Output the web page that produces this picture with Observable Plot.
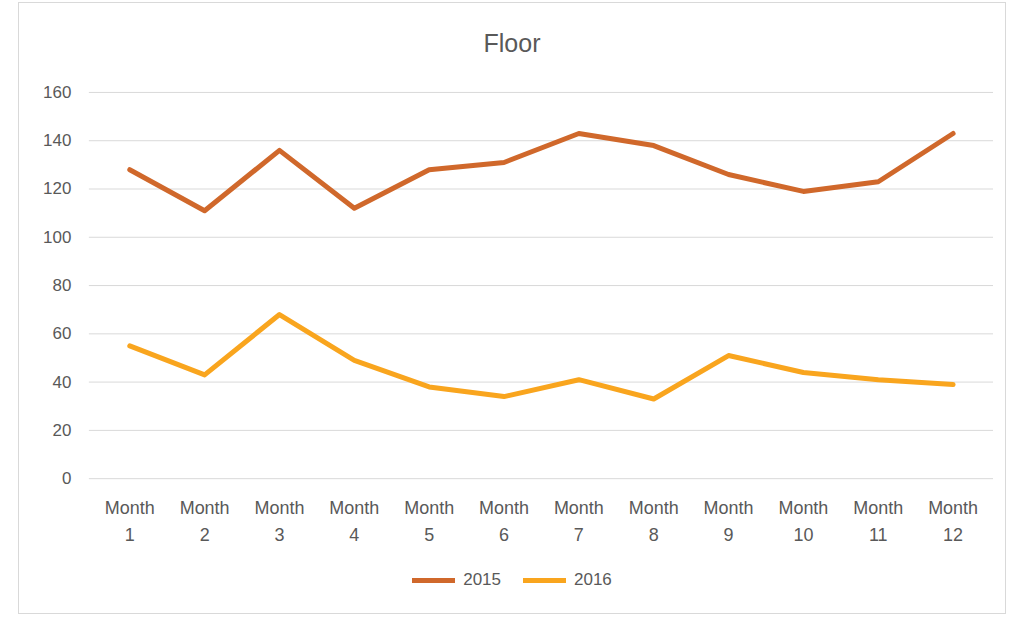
<!DOCTYPE html>
<html><head><meta charset="utf-8">
<script src="https://cdn.jsdelivr.net/npm/d3@7"></script>
<script src="https://cdn.jsdelivr.net/npm/@observablehq/plot@0.6"></script>
<style>
body{margin:0;background:#fff;font-family:"Liberation Sans",Arial,sans-serif;}
#box{position:absolute;left:18px;top:2px;width:988px;height:612px;border:1px solid #d9d9d9;box-sizing:border-box;}
#title{position:absolute;left:0;width:100%;top:26px;text-align:center;font-size:25px;color:#595959;}
#chart{position:absolute;left:-2px;top:66px;}
#legend{position:absolute;top:567px;left:0;width:100%;display:flex;justify-content:center;gap:22px;font-size:17px;color:#595959;}
.it{display:flex;align-items:center;gap:8px}
.sw{width:43px;height:5px;display:inline-block}
</style></head><body>
<div id="box"><div id="title">Floor</div><div id="chart"></div>
<div id="legend"></div></div>
<script>
const months = ["Month 1","Month 2","Month 3","Month 4","Month 5","Month 6","Month 7","Month 8","Month 9","Month 10","Month 11","Month 12"];
const s2015 = [128,111,136,112,128,131,143,138,126,119,123,143];
const s2016 = [55,43,68,49,38,34,41,33,51,44,41,39];
const series = ["2015","2016"];
const colors = ["#D0682B","#F9A51E"];
const yTicks = [0,20,40,60,80,100,120,140,160];

const data = [];
months.forEach((m,i)=>{data.push({m,v:s2015[i],s:"2015"});data.push({m,v:s2016[i],s:"2016"});});

const chart = Plot.plot({
  width:990, height:482,
  marginLeft:72, marginRight:12, marginTop:23, marginBottom:72,
  style:{fontSize:"17px",fontFamily:"Liberation Sans, Arial, sans-serif",color:"#595959"},
  x:{type:"band",domain:months,padding:0,label:null},
  y:{domain:[0,160],label:null},
  color:{domain:series,range:colors},
  marks:[
    Plot.gridY(yTicks,{stroke:"#d9d9d9",strokeOpacity:1}),
    Plot.axisY(yTicks,{tickSize:0,tickPadding:18,label:null,fontSize:17}),
    Plot.axisX({tickSize:0,tickPadding:16,label:null,fontSize:18,lineHeight:1.5,tickFormat:d=>d.replace(" ","\n")}),
    Plot.line(data,{x:"m",y:"v",z:"s",stroke:"s",strokeWidth:5,strokeLinejoin:"round"})
  ]
});
document.getElementById("chart").appendChild(chart);
const lg=document.getElementById("legend");
series.forEach((s,i)=>{const d=document.createElement("div");d.className="it";d.innerHTML=`<span class="sw" style="background:${colors[i]}"></span><span>${s}</span>`;lg.appendChild(d);});
</script></body></html>
